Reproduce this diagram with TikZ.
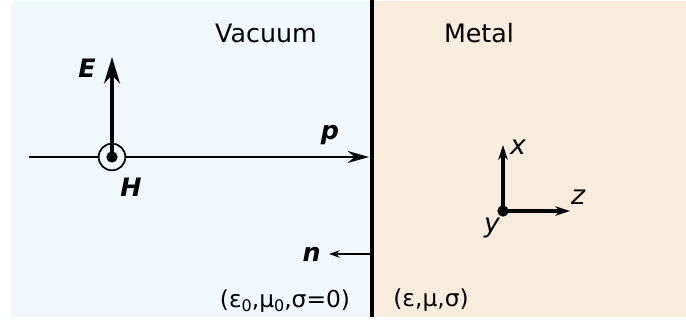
\documentclass[tikz,border=0pt]{standalone}
\usepackage{fontspec}
\setmainfont{DejaVu Sans}
\usetikzlibrary{arrows.meta,positioning}
\definecolor{vacuumbg}{RGB}{241,248,252}
\definecolor{metalbg}{RGB}{248,236,222}
\newcommand{\zerosub}{\raisebox{-3pt}{\fontsize{12}{12}\selectfont 0}}

\begin{document}
\begin{tikzpicture}[
  x=0.75pt, y=-0.75pt,
  region/.style={font=\fontsize{19}{21}\selectfont, inner sep=1pt},
  vec/.style={font=\fontsize{19}{21}\selectfont\bfseries\itshape, inner sep=1pt},
  axislbl/.style={font=\fontsize{20}{22}\selectfont\itshape, inner sep=1pt},
  medium/.style={font=\fontsize{17.5}{19}\selectfont, inner sep=1pt},
  ring/.style={circle, draw, fill=vacuumbg, line width=1.3pt, minimum size=20pt, inner sep=0pt},
  dot/.style={circle, fill=black, minimum size=8.5pt, inner sep=0pt},
  arr/.style={-{Stealth[length=16pt, width=9pt]}, line width=1.7pt},
  bigarr/.style={-{Stealth[length=20pt, width=12pt]}, line width=2.4pt},
  smallarr/.style={-{Stealth[length=8pt, width=5.5pt]}, line width=1.5pt},
  axarr/.style={-{Stealth[length=11pt, width=7pt]}, line width=2.4pt}
]
\useasboundingbox (0,0) rectangle (686,320);
\fill[vacuumbg] (11,1) rectangle (372,317);
\fill[metalbg] (372,1) rectangle (686,317);

% interface
\coordinate (walltop) at (372,0);
\coordinate (wallbot) at (372,317);
\draw[line width=2.8pt] (walltop) -- (wallbot);

\node[region] (vacuum) at (266,33) {Vacuum};
\node[region] (metal) at (479,33) {Metal};

% incoming wave
\coordinate (wavestart) at (29,157);
\coordinate (ptip) at (369,157);
\draw[arr] (wavestart) -- (ptip);
\node[vec] (plbl) at (330,135) {p};

\node[ring] (hring) at (112,157) {};
\coordinate (etip) at (112,57);
\draw[bigarr] (hring.center) -- (etip);
\node[dot] (hdot) at (hring.center) {};
\node[vec] (elbl) at (87,68) {E};
\node[vec] (hlbl) at (131,187) {H};

% normal
\coordinate (nfoot) at (372,254);
\coordinate (ntip) at (329,254);
\draw[smallarr] (nfoot) -- (ntip);
\node[vec, left=5pt of ntip] (nlbl) {n};

\node[medium] (vacparams) at (285,301) {(ε\zerosub,μ\zerosub,σ=0)};
\node[medium] (metparams) at (431,300) {(ε,μ,σ)};

% axes
\node[dot] (origin) at (503,211) {};
\coordinate (xtip) at (503,145);
\coordinate (ztip) at (570,211);
\draw[axarr] (origin.center) -- (xtip);
\draw[axarr] (origin.center) -- (ztip);
\node[axislbl] (xlbl) at (518,147) {x};
\node[axislbl] (zlbl) at (578,197) {z};
\node[axislbl] (ylbl) at (492,228) {y};
\end{tikzpicture}
\end{document}
